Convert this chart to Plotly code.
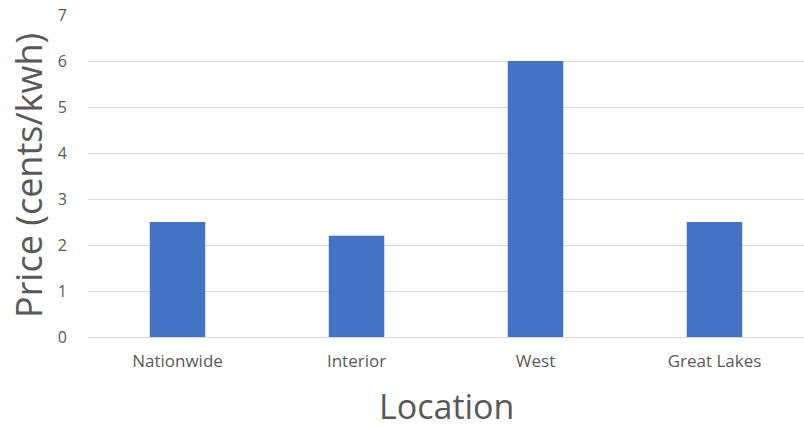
import plotly.graph_objects as go

locations = ["Nationwide", "Interior", "West", "Great Lakes"]
prices = [2.5, 2.2, 6.0, 2.5]
y_ticks = [0, 1, 2, 3, 4, 5, 6, 7]
y_title = "Price (cents/kwh)"
x_title = "Location"

fig = go.Figure(
    go.Bar(
        x=locations,
        y=prices,
        marker=dict(color="#4472C4", line=dict(width=0)),
    )
)

fig.update_layout(
    width=804,
    height=428,
    margin=dict(l=88, r=0, t=15, b=91),
    plot_bgcolor="white",
    paper_bgcolor="white",
    bargap=0.69,
    showlegend=False,
    font=dict(family="Open Sans, Lato, sans-serif", color="#595959"),
)

fig.update_xaxes(
    showgrid=False,
    showline=False,
    ticks="",
    ticklabelstandoff=12,
    tickfont=dict(size=17, color="#595959"),
)

fig.update_yaxes(
    range=[0, 7],
    tickvals=y_ticks,
    showgrid=True,
    gridcolor="#d9d9d9",
    gridwidth=1,
    zeroline=True,
    zerolinecolor="#d9d9d9",
    zerolinewidth=1,
    showline=False,
    ticks="",
    ticklabelstandoff=20,
    tickfont=dict(size=16, color="#595959"),
)

# axis titles as annotations, positioned relative to the plot area
fig.add_annotation(
    text=y_title,
    textangle=-90,
    xref="paper",
    yref="paper",
    x=0,
    y=0.5,
    xshift=-60,
    xanchor="center",
    yanchor="middle",
    showarrow=False,
    font=dict(size=36, color="#595959"),
)
fig.add_annotation(
    text=x_title,
    xref="paper",
    yref="paper",
    x=0.5,
    y=0,
    yshift=-69,
    xanchor="center",
    yanchor="middle",
    showarrow=False,
    font=dict(size=34, color="#595959"),
)

fig.write_html("out.html")
